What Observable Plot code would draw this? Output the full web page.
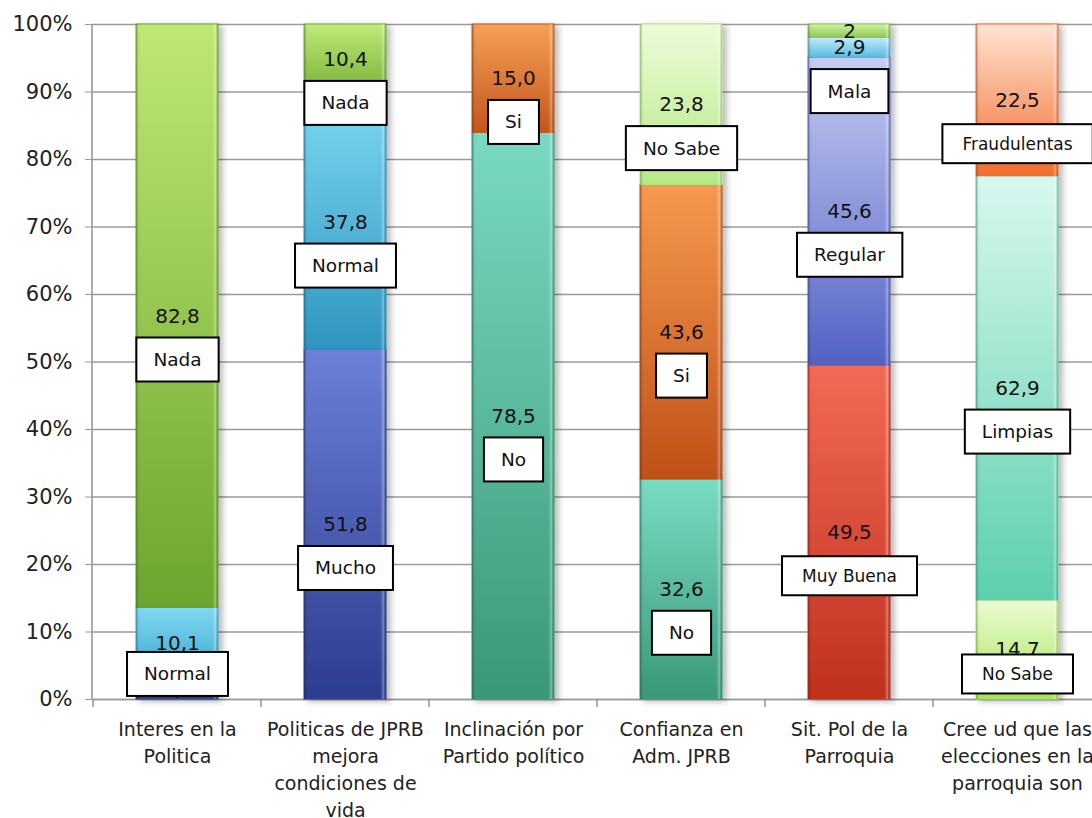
<!DOCTYPE html>
<html><head><meta charset="utf-8">
<script src="https://cdn.jsdelivr.net/npm/d3@7"></script>
<script src="https://cdn.jsdelivr.net/npm/@observablehq/plot@0.6"></script>
<style>
html,body{margin:0;padding:0;background:#fff;overflow:hidden;}
#chart{width:1110px;}
#chart svg{max-width:none !important;}
</style></head><body><div id="chart"></div>
<script>
// ---- data ----
const categories = [
  "Interes en la\nPolitica",
  "Politicas de JPRB\nmejora\ncondiciones de\nvida",
  "Inclinación por\nPartido político",
  "Confianza en\nAdm. JPRB",
  "Sit. Pol de la\nParroquia",
  "Cree ud que las\nelecciones en la\nparroquia son"
];
// segments listed bottom to top ("" = no visible label box)
const segmentLabels = [
  ["", "Normal", "Nada"],
  ["Mucho", "Normal", "Nada"],
  ["No", "Si"],
  ["No", "Si", "No Sabe"],
  ["Muy Buena", "Regular", "Mala", ""],
  ["No Sabe", "Limpias", "Fraudulentas"]
];
const segmentValueTexts = [
  ["2,9", "10,1", "82,8"],
  ["51,8", "37,8", "10,4"],
  ["78,5", "15,0"],
  ["32,6", "43,6", "23,8"],
  ["49,5", "45,6", "2,9", "2"],
  ["14,7", "62,9", "22,5"]
];
const yTicks = [0, 0.1, 0.2, 0.3, 0.4, 0.5, 0.6, 0.7, 0.8, 0.9, 1];

// ---- styles (top / bottom gradient colours per segment) ----
const segmentColors = [
  [["#5a6fcc", "#2c3c90"], ["#80daf2", "#3aa3cc"], ["#bfe872", "#6ba52e"]],
  [["#6c80d8", "#2c3c8e"], ["#7dd8f0", "#2e95c0"], ["#c0ea78", "#76b038"]],
  [["#7ad9c2", "#3a9878"], ["#f5a056", "#c4561c"]],
  [["#7adcc4", "#3a987a"], ["#f59a4e", "#c05018"], ["#ecfcd8", "#b6e884"]],
  [["#f26a56", "#c0301e"], ["#c6ccf2", "#5262c4"], ["#c4eafa", "#58bce0"], ["#cff2a4", "#8cc850"]],
  [["#ecfcd2", "#a6e45c"], ["#d8f8ee", "#5ccfae"], ["#ffe4d4", "#f26c2a"]]
];
const smallBoxKeys = ["4|Muy Buena", "5|No Sabe", "5|Fraudulentas"];
const BOX_FONT = 18.5, SMALL_BOX_FONT = 17;

// ---- build rows ----
const rows = [];
categories.forEach((cat, i) => {
  const vals = segmentValueTexts[i].map(s => +s.replace(",", "."));
  const total = d3.sum(vals);
  let cum = 0;
  vals.forEach((v, j) => {
    const y1 = cum / total; cum += v; const y2 = cum / total;
    const mid = (y1 + y2) / 2;
    rows.push({
      cat, label: segmentLabels[i][j], text: segmentValueTexts[i][j], value: v,
      y1, y2, mid, boxY: Math.max(mid - 0.065, 0.037),
      id: `seg${i}_${j}`, c0: segmentColors[i][j][0], c1: segmentColors[i][j][1],
      small: smallBoxKeys.includes(`${i}|${segmentLabels[i][j]}`)
    });
  });
});
const boxRows = rows.filter(r => r.label && !r.small);
const smallBoxRows = rows.filter(r => r.label && r.small);

const frameMark = (index, scales, values, dims) => {
  const x = scales.x;
  const g = d3.create("svg:g").attr("class", "frame");
  const bw = typeof x.bandwidth === "function" ? x.bandwidth() : 0;
  const step = x(categories[1]) - x(categories[0]);
  const left = dims.marginLeft, top = dims.marginTop, bottom = dims.height - dims.marginBottom;
  g.append("line").attr("x1", left).attr("x2", left).attr("y1", top).attr("y2", bottom)
    .attr("stroke", "#999").attr("stroke-width", 1.6);
  const bounds = categories.map(c => x(c) + bw / 2 - step / 2);
  bounds.push(x(categories[categories.length - 1]) + bw / 2 + step / 2);
  bounds.forEach(bx => {
    g.append("line").attr("x1", bx).attr("x2", bx).attr("y1", bottom).attr("y2", bottom + 8)
      .attr("stroke", "#999").attr("stroke-width", 1.6);
  });
  return g.node();
};

const svg = Plot.plot({
  width: 1110,
  height: 818,
  marginLeft: 92,
  marginRight: 7,
  marginTop: 24,
  marginBottom: 119,
  style: {fontFamily: "DejaVu Sans, Verdana, sans-serif", background: "#fff", color: "#222"},
  x: {domain: categories, paddingInner: 0.51, paddingOuter: 0.255},
  y: {domain: [0, 1]},
  marks: [
    Plot.gridY(yTicks, {stroke: "#9a9a9a", strokeOpacity: 1, strokeWidth: 1.6}),
    Plot.ruleY([0], {stroke: "#999", strokeWidth: 1.6}),
    Plot.barY(rows, {x: "cat", y1: "y1", y2: "y2", fill: d => `url(#${d.id})`,
      stroke: d => d.c1, strokeWidth: 1}),
    Plot.barY(rows, {x: "cat", y1: "y1", y2: "y2", fill: "url(#bevel)"}),
    Plot.text(rows, {x: "cat", y: "mid", text: "text", fontSize: 20, fill: "#111"}),
    Plot.text(boxRows, {x: "cat", y: "boxY", text: "label", fontSize: BOX_FONT, fill: "#111"}),
    Plot.text(smallBoxRows, {x: "cat", y: "boxY", text: "label", fontSize: SMALL_BOX_FONT, fill: "#111"}),
    Plot.axisY({ticks: yTicks, tickFormat: d3.format(".0%"), tickSize: 7, tickPadding: 13,
      fontSize: 21, label: null, stroke: "#999", fill: "#222"}),
    Plot.axisX({tickSize: 0, tickPadding: 17, fontSize: 19, lineHeight: 1.42, label: null, fill: "#222"}),
    frameMark
  ]
});
svg.style.maxWidth = "none";
document.getElementById("chart").append(svg);

// gradients, bevel, shadow
const defs = d3.select(svg).insert("defs", ":first-child");
rows.forEach(r => {
  const g = defs.append("linearGradient").attr("id", r.id).attr("x1", 0).attr("y1", 0).attr("x2", 0).attr("y2", 1);
  g.append("stop").attr("offset", "0%").attr("stop-color", r.c0);
  g.append("stop").attr("offset", "100%").attr("stop-color", r.c1);
});
const bevel = defs.append("linearGradient").attr("id", "bevel").attr("x1", 0).attr("y1", 0).attr("x2", 1).attr("y2", 0);
[[0, "#000", 0.22], [0.04, "#000", 0], [0.93, "#fff", 0], [0.97, "#fff", 0.3], [1, "#000", 0.12]].forEach(([o, c, a]) =>
  bevel.append("stop").attr("offset", o).attr("stop-color", c).attr("stop-opacity", a));
const filt = defs.append("filter").attr("id", "shadow").attr("x", "-20%").attr("y", "-5%").attr("width", "150%").attr("height", "110%");
filt.append("feDropShadow").attr("dx", 4).attr("dy", 2).attr("stdDeviation", 3).attr("flood-color", "#000").attr("flood-opacity", 0.28);

// find mark groups by content
const groups = Array.from(svg.children).filter(n => n.tagName.toLowerCase() === "g");
groups.forEach(g => {
  const first = g.querySelector("rect");
  if (first && /url\(#seg/.test(first.getAttribute("fill") || "")) g.setAttribute("filter", "url(#shadow)");
});

// boxes behind box labels
function boxify(fontSize, padX, h) {
  const gs = groups.filter(g => parseFloat(g.getAttribute("font-size")) === fontSize);
  gs.forEach(g => {
    Array.from(g.querySelectorAll("text")).forEach(t => {
      const bb = t.getBBox();
      const cx = bb.x + bb.width / 2, cy = bb.y + bb.height / 2;
      const w = bb.width + 2 * padX;
      const rect = document.createElementNS("http://www.w3.org/2000/svg", "rect");
      rect.setAttribute("x", cx - w / 2);
      rect.setAttribute("y", cy - h / 2);
      rect.setAttribute("width", w);
      rect.setAttribute("height", h);
      rect.setAttribute("fill", "#fff");
      rect.setAttribute("stroke", "#000");
      rect.setAttribute("stroke-width", 2);
      const tr = t.getAttribute("transform");
      if (tr) rect.setAttribute("transform", tr);
      t.parentNode.insertBefore(rect, t);
    });
  });
}
boxify(BOX_FONT, 17, 44);
boxify(SMALL_BOX_FONT, 20, 39);
</script>
</body></html>
